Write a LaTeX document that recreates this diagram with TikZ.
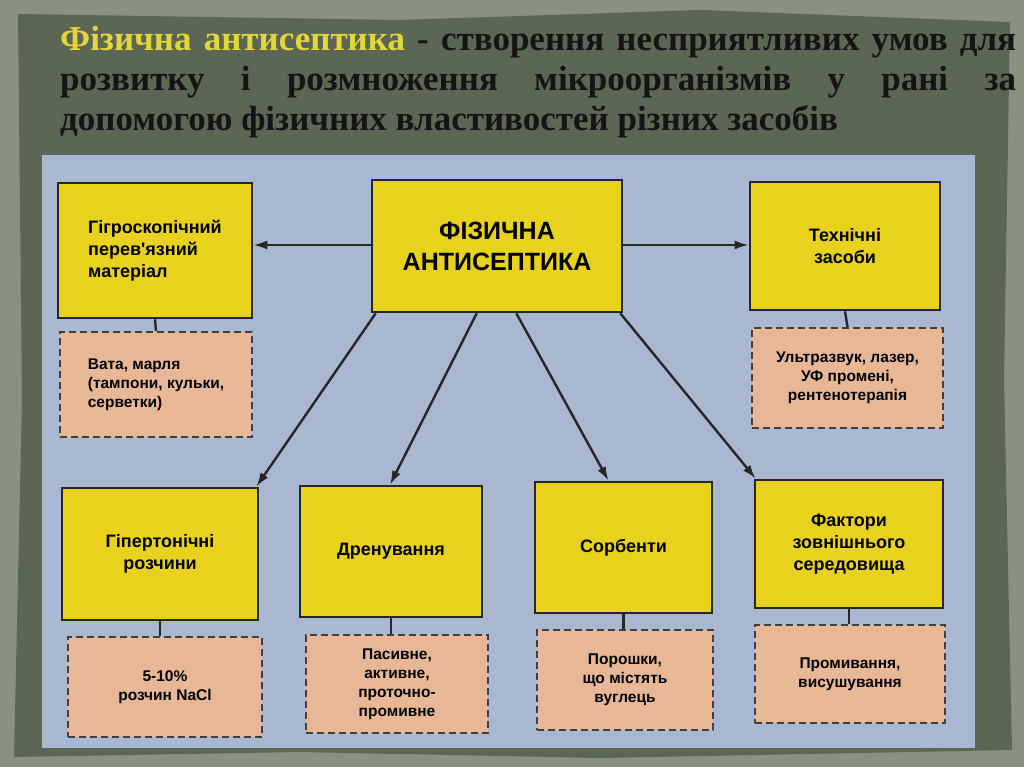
\documentclass[tikz,border=0pt]{standalone}
\usepackage{fontspec}
\usetikzlibrary{arrows.meta}
\setmainfont{Liberation Serif}
\newfontfamily\sansb{Liberation Sans}
\definecolor{ybg}{RGB}{232,210,30}
\definecolor{pbg}{RGB}{232,184,150}
\definecolor{ttl}{RGB}{226,214,60}
\begin{document}
\begin{tikzpicture}[x=1pt,y=-1pt,
  ybox/.style={draw=black!85,line width=2.6pt,fill=ybg,font=\sansb\bfseries\fontsize{18}{22}\selectfont,align=center,inner sep=4pt},
  pbox/.style={draw=black!75,line width=2.2pt,dashed,dash pattern=on 7pt off 4pt,fill=pbg,font=\sansb\bfseries\fontsize{15.5}{19}\selectfont,align=center},
  arr/.style={-{Latex[length=14pt,width=9pt]},line width=2.4pt,draw=black!85},
  stub/.style={line width=2.4pt,draw=black!85}]
\useasboundingbox (0,0) rectangle (1024,767);
\fill[color={rgb,255:red,138;green,145;blue,128}] (0,0) rectangle (1024,767);
\fill[color={rgb,255:red,92;green,102;blue,84}] (18,14) -- (400,20) -- (700,10) -- (1010,22) -- (1004,380) -- (1012,750) -- (600,758) -- (300,752) -- (14,757) -- (22,400) -- cycle;
\fill[color={rgb,255:red,169;green,184;blue,208}] (42,155) rectangle (975,748);
\node[anchor=north west,text width=956pt,align=justify,font=\bfseries\fontsize{35}{40}\selectfont,text=black!92,inner sep=0pt] (title) at (60,26)
{\textcolor{ttl}{Фізична антисептика} - створення несприятливих умов для\linebreak розвитку і розмноження мікроорганізмів у рані за\linebreak допомогою фізичних властивостей різних засобів};
\node[ybox,minimum width=250pt,minimum height=132pt,font=\sansb\bfseries\fontsize{25}{31}\selectfont] (c) at (497,246) {ФІЗИЧНА\\АНТИСЕПТИКА};
\node[ybox,minimum width=194pt,minimum height=135pt,align=left] (l) at (155,250.5) {Гігроскопічний\\перев'язний\\матеріал};
\node[ybox,minimum width=190pt,minimum height=128pt] (r) at (845,246) {Технічні\\засоби};
\node[pbox,minimum width=192pt,minimum height=105pt,align=left] (lp) at (156,384.5) {Вата, марля\\(тампони, кульки,\\серветки)};
\node[pbox,minimum width=191pt,minimum height=100pt] (rp) at (847.5,378) {Ультразвук, лазер,\\УФ промені,\\рентенотерапія};
\node[ybox,minimum width=196pt,minimum height=132pt] (b1) at (160,554) {Гіпертонічні\\розчини};
\node[ybox,minimum width=182pt,minimum height=131pt] (b2) at (391,551.5) {Дренування};
\node[ybox,minimum width=177pt,minimum height=131pt] (b3) at (623.5,547.5) {Сорбенти};
\node[ybox,minimum width=188pt,minimum height=128pt] (b4) at (849,544) {Фактори\\зовнішнього\\середовища};
\node[pbox,minimum width=194pt,minimum height=100pt] (p1) at (165,687) {5-10\%\\розчин NaCl};
\node[pbox,minimum width=182pt,minimum height=98pt] (p2) at (397,684) {Пасивне,\\активне,\\проточно-\\промивне};
\node[pbox,minimum width=176pt,minimum height=100pt] (p3) at (625,680) {Порошки,\\що містять\\вуглець};
\node[pbox,minimum width=190pt,minimum height=98pt] (p4) at (850,674) {Промивання,\\висушування};
\draw[arr] (c.west |- 0,245) -- (l.east |- 0,245);
\draw[arr] (c.east |- 0,245) -- (r.west |- 0,245);
\draw[arr] ([xshift=5pt]c.south west) -- ([xshift=-3pt]b1.north east);
\draw[arr] ([xshift=106pt]c.south west) -- ([xshift=-1pt]b2.north);
\draw[arr] ([xshift=-107pt]c.south east) -- ([xshift=-15pt]b3.north);
\draw[arr] ([xshift=-3pt]c.south east) -- ([xshift=2pt]b4.north west);
\draw[stub] (l.south) -- (lp.north);
\draw[stub] (r.south) -- (rp.north);
\draw[stub] (b1.south) -- (p1.north -| b1.south);
\draw[stub] (b2.south) -- (p2.north -| b2.south);
\draw[stub] (b3.south) -- (p3.north -| b3.south);
\draw[stub] (b4.south) -- (p4.north -| b4.south);
\end{tikzpicture}
\end{document}
